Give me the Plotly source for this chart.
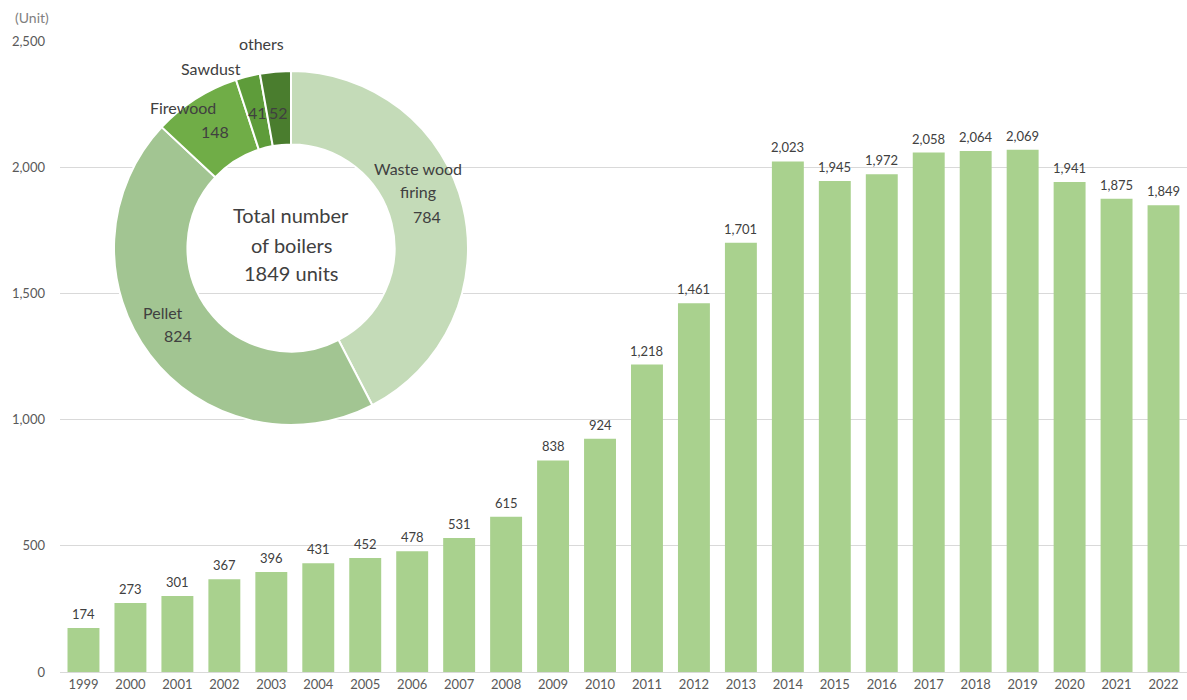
import plotly.graph_objects as go

# Number of woody-biomass boilers by year
years = ["1999", "2000", "2001", "2002", "2003", "2004", "2005", "2006", "2007", "2008",
         "2009", "2010", "2011", "2012", "2013", "2014", "2015", "2016", "2017", "2018",
         "2019", "2020", "2021", "2022"]
boilers = [174, 273, 301, 367, 396, 431, 452, 478, 531, 615,
           838, 924, 1218, 1461, 1701, 2023, 1945, 1972, 2058, 2064,
           2069, 1941, 1875, 1849]

# Breakdown of the latest year by fuel type
fuel_labels = ["Waste wood firing", "Pellet", "Firewood", "Sawdust", "others"]
fuel_counts = [784, 824, 148, 41, 52]
fuel_colors = ["#C4DBB8", "#A2C592", "#70AD47", "#5E9C3A", "#4A7D2E"]
total_units = sum(fuel_counts)

W, H = 1187, 700
ML, MR, MT, MB = 60, 0, 41, 28
PW, PH = W - ML - MR, H - MT - MB


def px(x, y):
    """Convert page pixels to paper coordinates of the plot area."""
    return (x - ML) / PW, (H - MB - y) / PH


fig = go.Figure()

fig.add_trace(go.Bar(
    x=years, y=boilers,
    marker=dict(color="#A9D18E", line=dict(width=0)),
    showlegend=False,
))

annotations = []

# Value labels above the bars (category index positions)
for i, val in enumerate(boilers):
    annotations.append(dict(text=f"{val:,}", x=i, y=val, xref="x", yref="y",
                            showarrow=False, xanchor="center", yanchor="bottom",
                            yshift=4, font=dict(size=13, color="#404040")))

# Donut inset
cx, cy, r = 291, 248, 177
x0, y1 = px(cx - r, cy - r)
x1, y0 = px(cx + r, cy + r)
fig.add_trace(go.Pie(
    labels=fuel_labels, values=fuel_counts,
    marker=dict(colors=fuel_colors, line=dict(color="white", width=2)),
    hole=0.585, sort=False, direction="clockwise", rotation=0,
    textinfo="none", hoverinfo="label+value",
    domain=dict(x=[x0, x1], y=[y0, y1]), showlegend=False,
))


def note(text, x, y, size=16, color="#404040"):
    ax, ay = px(x, y)
    annotations.append(dict(text=text, x=ax, y=ay, xref="paper", yref="paper",
                            showarrow=False, xanchor="center", yanchor="middle",
                            font=dict(size=size, color=color)))


# Slice names and counts
note("Waste wood", 418, 168)
note("firing", 418, 192)
note(str(fuel_counts[0]), 427, 216)
note(fuel_labels[1], 163, 312)
note(str(fuel_counts[1]), 178, 335)
note(fuel_labels[2], 183, 108)
note(str(fuel_counts[2]), 215, 131)
note(fuel_labels[3], 211, 68)
note(str(fuel_counts[3]), 257, 112)
note(fuel_labels[4], 261, 44)
note(str(fuel_counts[4]), 278, 112)

# Centre caption
note("Total number", 291, 215, size=20)
note("of boilers", 291, 245, size=20)
note(f"{total_units} units", 291, 273, size=20)

# Unit label
note("(Unit)", 32, 18, size=14, color="#7F7F7F")

# White panel behind the donut that hides the gridlines
bx0, by0 = px(68, 432)
bx1, by1 = px(445, 32)
cx1, _ = px(511, 0)
_, cy0 = px(0, 50)
shapes = [
    dict(type="rect", xref="paper", yref="paper", x0=bx0, x1=bx1, y0=by0, y1=by1,
         fillcolor="white", line=dict(width=0), layer="between"),
    dict(type="rect", xref="paper", yref="paper", x0=bx1, x1=cx1, y0=cy0, y1=by1,
         fillcolor="white", line=dict(width=0), layer="between"),
]

fig.update_layout(
    width=W, height=H,
    margin=dict(l=ML, r=MR, t=MT, b=MB, pad=0),
    paper_bgcolor="white", plot_bgcolor="white",
    font=dict(family="Lato, 'Open Sans', sans-serif", color="#595959", size=13),
    bargap=0.32,
    annotations=annotations,
    shapes=shapes,
    xaxis=dict(type="category", range=[-0.5, len(years) - 0.5], showgrid=False,
               ticks="", showline=True, linecolor="#D9D9D9", linewidth=1,
               tickfont=dict(size=13, color="#595959"), fixedrange=True),
    yaxis=dict(range=[0, 2500], tickvals=[0, 500, 1000, 1500, 2000, 2500],
               tickformat=",", showgrid=True, gridcolor="#D9D9D9", gridwidth=1,
               zeroline=False, ticks="", ticklabelstandoff=14,
               tickfont=dict(size=13, color="#595959"), fixedrange=True),
)

fig.write_html("out.html")
